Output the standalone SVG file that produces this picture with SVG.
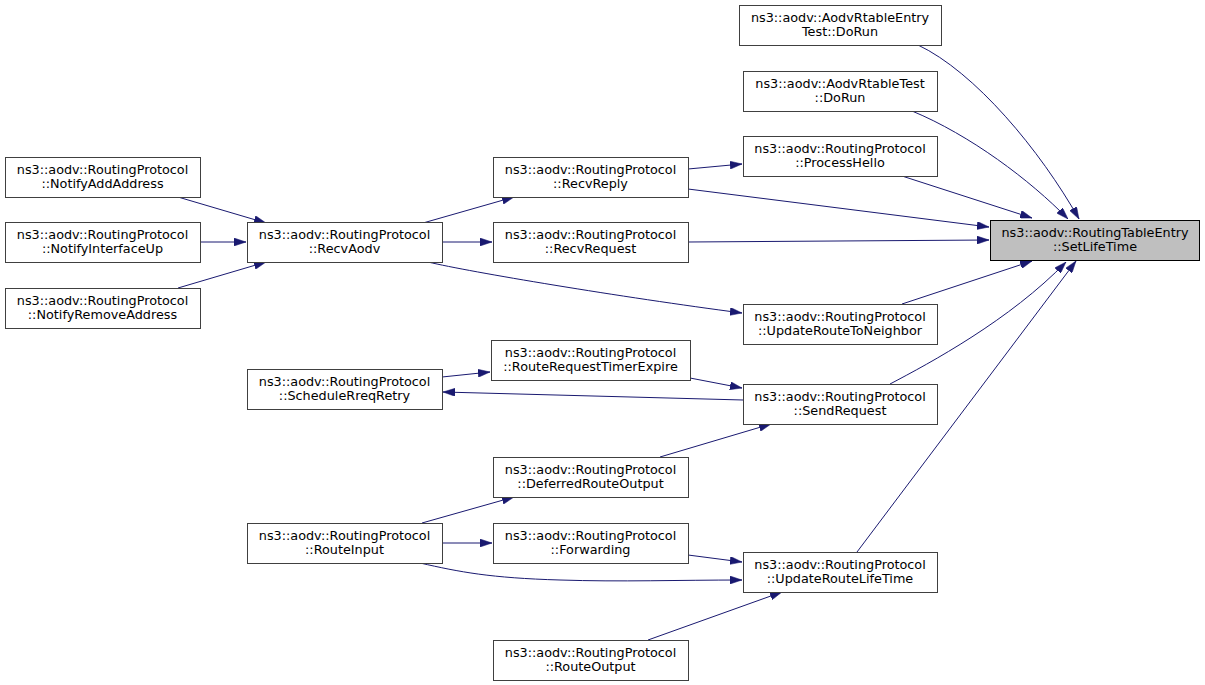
<svg xmlns="http://www.w3.org/2000/svg" width="1205" height="685" viewBox="0 0 1205 685">
<defs>
<style>
.node rect{fill:#ffffff;stroke:#404040;stroke-width:1}
#n_target rect{fill:#bfbfbf;stroke:#000000}
.node text{font-family:"DejaVu Sans",sans-serif;font-size:12.8px;fill:#000000;text-anchor:middle}
.edge{fill:none;stroke:#191970;stroke-width:1;marker-end:url(#arr)}
</style>
<marker id="arr" viewBox="0 0 12 8" refX="12" refY="4" markerWidth="12" markerHeight="8" markerUnits="userSpaceOnUse" orient="auto">
<path d="M0,0 L12,4 L0,8 z" fill="#191970" stroke="#191970" stroke-width="0.5"/>
</marker>
</defs>
<rect width="1205" height="685" fill="#ffffff"/>
<g id="connectors">
<path class="edge" d="M918,45 C975,72 1040,150 1079,219"/>
<path class="edge" d="M912,111 C970,135 1030,180 1068,219"/>
<path class="edge" d="M902,176 L1032,218"/>
<path class="edge" d="M688,189 L989,227"/>
<path class="edge" d="M688,242 L989,240"/>
<path class="edge" d="M902,304 L1032,261"/>
<path class="edge" d="M890,384 C930,363 1010,320 1066,262"/>
<path class="edge" d="M857,552 L1076,261"/>
<path class="edge" d="M688,169 L742,164"/>
<path class="edge" d="M423,223 L514,197"/>
<path class="edge" d="M442,242 L492,242"/>
<path class="edge" d="M428,262 C470,272 620,297 742,313"/>
<path class="edge" d="M178,197 L266,223"/>
<path class="edge" d="M200,242 L246,242"/>
<path class="edge" d="M178,288 L266,262"/>
<path class="edge" d="M442,377 L490,372"/>
<path class="edge" d="M690,378 L742,388"/>
<path class="edge" d="M743,400 L443,392"/>
<path class="edge" d="M660,457 L771,424"/>
<path class="edge" d="M422,523 L514,497"/>
<path class="edge" d="M442,543 L492,543"/>
<path class="edge" d="M420,563 C460,572 490,578 560,580 C620,582 680,580 742,580"/>
<path class="edge" d="M688,555 L742,562"/>
<path class="edge" d="M648,640 L782,592"/>
</g>
<g id="n_target" class="node"><rect x="990.5" y="220.5" width="209" height="40"/><text x="1095" y="237">ns3::aodv::RoutingTableEntry</text><text x="1095" y="251">::SetLifeTime</text></g>
<g id="n_entrytest" class="node"><rect x="739.5" y="5.5" width="202" height="40"/><text x="840" y="22">ns3::aodv::AodvRtableEntry</text><text x="840" y="36">Test::DoRun</text></g>
<g id="n_rtabletest" class="node"><rect x="743.5" y="71.5" width="194" height="40"/><text x="840" y="88">ns3::aodv::AodvRtableTest</text><text x="840" y="102">::DoRun</text></g>
<g id="n_processhello" class="node"><rect x="743.5" y="136.5" width="194" height="40"/><text x="840" y="153">ns3::aodv::RoutingProtocol</text><text x="840" y="167">::ProcessHello</text></g>
<g id="n_recvreply" class="node"><rect x="493.5" y="157.5" width="195" height="40"/><text x="590.5" y="174">ns3::aodv::RoutingProtocol</text><text x="590.5" y="188">::RecvReply</text></g>
<g id="n_recvrequest" class="node"><rect x="493.5" y="222.5" width="195" height="40"/><text x="590.5" y="239">ns3::aodv::RoutingProtocol</text><text x="590.5" y="253">::RecvRequest</text></g>
<g id="n_updateneighbor" class="node"><rect x="743.5" y="304.5" width="194" height="40"/><text x="840" y="321">ns3::aodv::RoutingProtocol</text><text x="840" y="335">::UpdateRouteToNeighbor</text></g>
<g id="n_notifyadd" class="node"><rect x="5.5" y="157.5" width="195" height="40"/><text x="102.5" y="174">ns3::aodv::RoutingProtocol</text><text x="102.5" y="188">::NotifyAddAddress</text></g>
<g id="n_notifyup" class="node"><rect x="5.5" y="222.5" width="195" height="40"/><text x="102.5" y="239">ns3::aodv::RoutingProtocol</text><text x="102.5" y="253">::NotifyInterfaceUp</text></g>
<g id="n_notifyremove" class="node"><rect x="5.5" y="288.5" width="195" height="40"/><text x="102.5" y="305">ns3::aodv::RoutingProtocol</text><text x="102.5" y="319">::NotifyRemoveAddress</text></g>
<g id="n_recvaodv" class="node"><rect x="247.5" y="222.5" width="195" height="40"/><text x="344.5" y="239">ns3::aodv::RoutingProtocol</text><text x="344.5" y="253">::RecvAodv</text></g>
<g id="n_schedule" class="node"><rect x="247.5" y="369.5" width="195" height="40"/><text x="344.5" y="386">ns3::aodv::RoutingProtocol</text><text x="344.5" y="400">::ScheduleRreqRetry</text></g>
<g id="n_timerexpire" class="node"><rect x="491.5" y="340.5" width="199" height="40"/><text x="590.5" y="357">ns3::aodv::RoutingProtocol</text><text x="590.5" y="371">::RouteRequestTimerExpire</text></g>
<g id="n_sendrequest" class="node"><rect x="743.5" y="384.5" width="194" height="40"/><text x="840" y="401">ns3::aodv::RoutingProtocol</text><text x="840" y="415">::SendRequest</text></g>
<g id="n_deferred" class="node"><rect x="493.5" y="457.5" width="195" height="40"/><text x="590.5" y="474">ns3::aodv::RoutingProtocol</text><text x="590.5" y="488">::DeferredRouteOutput</text></g>
<g id="n_routeinput" class="node"><rect x="247.5" y="523.5" width="195" height="40"/><text x="344.5" y="540">ns3::aodv::RoutingProtocol</text><text x="344.5" y="554">::RouteInput</text></g>
<g id="n_forwarding" class="node"><rect x="493.5" y="523.5" width="195" height="40"/><text x="590.5" y="540">ns3::aodv::RoutingProtocol</text><text x="590.5" y="554">::Forwarding</text></g>
<g id="n_updatelifetime" class="node"><rect x="743.5" y="552.5" width="194" height="40"/><text x="840" y="569">ns3::aodv::RoutingProtocol</text><text x="840" y="583">::UpdateRouteLifeTime</text></g>
<g id="n_routeoutput" class="node"><rect x="493.5" y="640.5" width="195" height="40"/><text x="590.5" y="657">ns3::aodv::RoutingProtocol</text><text x="590.5" y="671">::RouteOutput</text></g>
</svg>
